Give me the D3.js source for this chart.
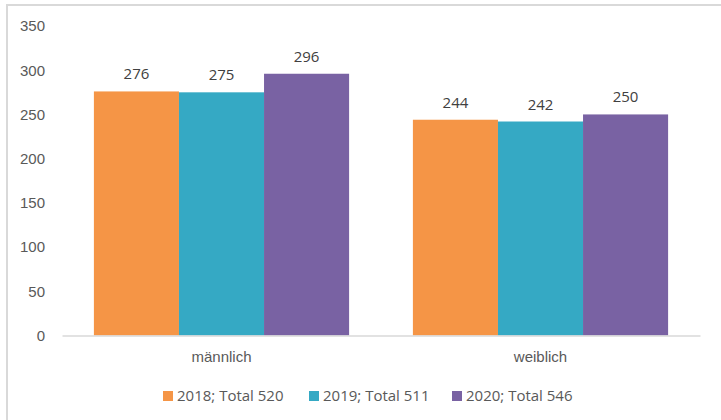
<!DOCTYPE html>
<html>
<head>
<meta charset="utf-8">
<script src="https://cdn.jsdelivr.net/npm/d3@7"></script>
<style>
  body { margin: 0; background: #fff; }
  svg { display: block; font-family: "Open Sans", "Liberation Sans", sans-serif; }
  .axis text { fill: #595959; font-size: 15px; }
  .axis path, .axis line { stroke: #d9d9d9; }
</style>
</head>
<body>
<div id="chart"></div>
<script>
const categories = ['männlich', 'weiblich'];
const series = ['2018; Total 520', '2019; Total 511', '2020; Total 546'];
const values2018 = [276, 244];
const values2019 = [275, 242];
const values2020 = [296, 250];
const yTicks = [0, 50, 100, 150, 200, 250, 300, 350];
const colors = ['#F59546', '#35A9C4', '#7962A3'];

const allValues = [values2018, values2019, values2020];

const width = 721;
const height = 420;
const margin = { top: 26, right: 21, bot: 85, left: 62 };
const innerW = width - margin.left - margin.right;
const innerH = height - margin.top - margin.bot;

const svg = d3.select('#chart')
  .append('svg')
  .attr('width', width)
  .attr('height', height);

// outer frame (top and left edges visible)
svg.append('path')
  .attr('d', `M7,${height} L7,5 L${width},5`)
  .attr('fill', 'none')
  .attr('stroke', '#d9d9d9')
  .attr('stroke-width', 2);

const g = svg.append('g')
  .attr('transform', `translate(${margin.left}, ${margin.top})`);

const xScale = d3.scaleBand()
  .domain(categories)
  .range([0, innerW])
  .paddingInner(0)
  .paddingOuter(0);

const xSub = d3.scaleBand()
  .domain(series)
  .range([xScale.bandwidth() * 0.1, xScale.bandwidth() * 0.9]);

const yScale = d3.scaleLinear()
  .domain([0, 350])
  .range([innerH + 0.5, 0]);

const yAxis = d3.axisLeft(yScale)
  .tickValues(yTicks)
  .tickSize(0)
  .tickPadding(17);

g.append('g')
  .attr('class', 'axis y')
  .call(yAxis)
  .call((s) => s.select('.domain').remove());

const xAxis = d3.axisBottom(xScale)
  .tickSize(0)
  .tickPadding(16);

const groups = g.selectAll('.group')
  .data(categories)
  .enter()
  .append('g')
  .attr('class', 'group')
  .attr('transform', (d) => `translate(${xScale(d)}, 0)`);

groups.selectAll('rect')
  .data((d, i) => series.map((s, j) => ({ s, j, v: allValues[j][i] })))
  .enter()
  .append('rect')
  .attr('x', (d) => xSub(d.s))
  .attr('width', xSub.bandwidth())
  .attr('y', (d) => yScale(d.v))
  .attr('height', (d) => yScale(0) - yScale(d.v))
  .attr('fill', (d) => colors[d.j]);

groups.selectAll('.val')
  .data((d, i) => series.map((s, j) => ({ s, j, v: allValues[j][i] })))
  .enter()
  .append('text')
  .attr('class', 'val')
  .attr('x', (d) => xSub(d.s) + xSub.bandwidth() / 2)
  .attr('y', (d) => yScale(d.v) - 12)
  .attr('text-anchor', 'middle')
  .attr('fill', '#404040')
  .attr('font-size', 15)
  .text((d) => d.v);

g.append('g')
  .attr('class', 'axis x')
  .attr('transform', `translate(0, ${yScale(0)})`)
  .call(xAxis)
  .call((s) => s.select('.domain').attr('stroke-width', 1.5));

// legend
const legendX = [163, 309, 452];
const legend = svg.append('g')
  .attr('class', 'legend');

const items = legend.selectAll('g')
  .data(series)
  .enter()
  .append('g')
  .attr('transform', (d, i) => `translate(${legendX[i]}, 391)`);

items.append('rect')
  .attr('width', 10)
  .attr('height', 10)
  .attr('fill', (d, i) => colors[i]);

items.append('text')
  .attr('x', 14)
  .attr('y', 10)
  .attr('fill', '#595959')
  .attr('font-size', 15)
  .text((d) => d);
</script>
</body>
</html>
